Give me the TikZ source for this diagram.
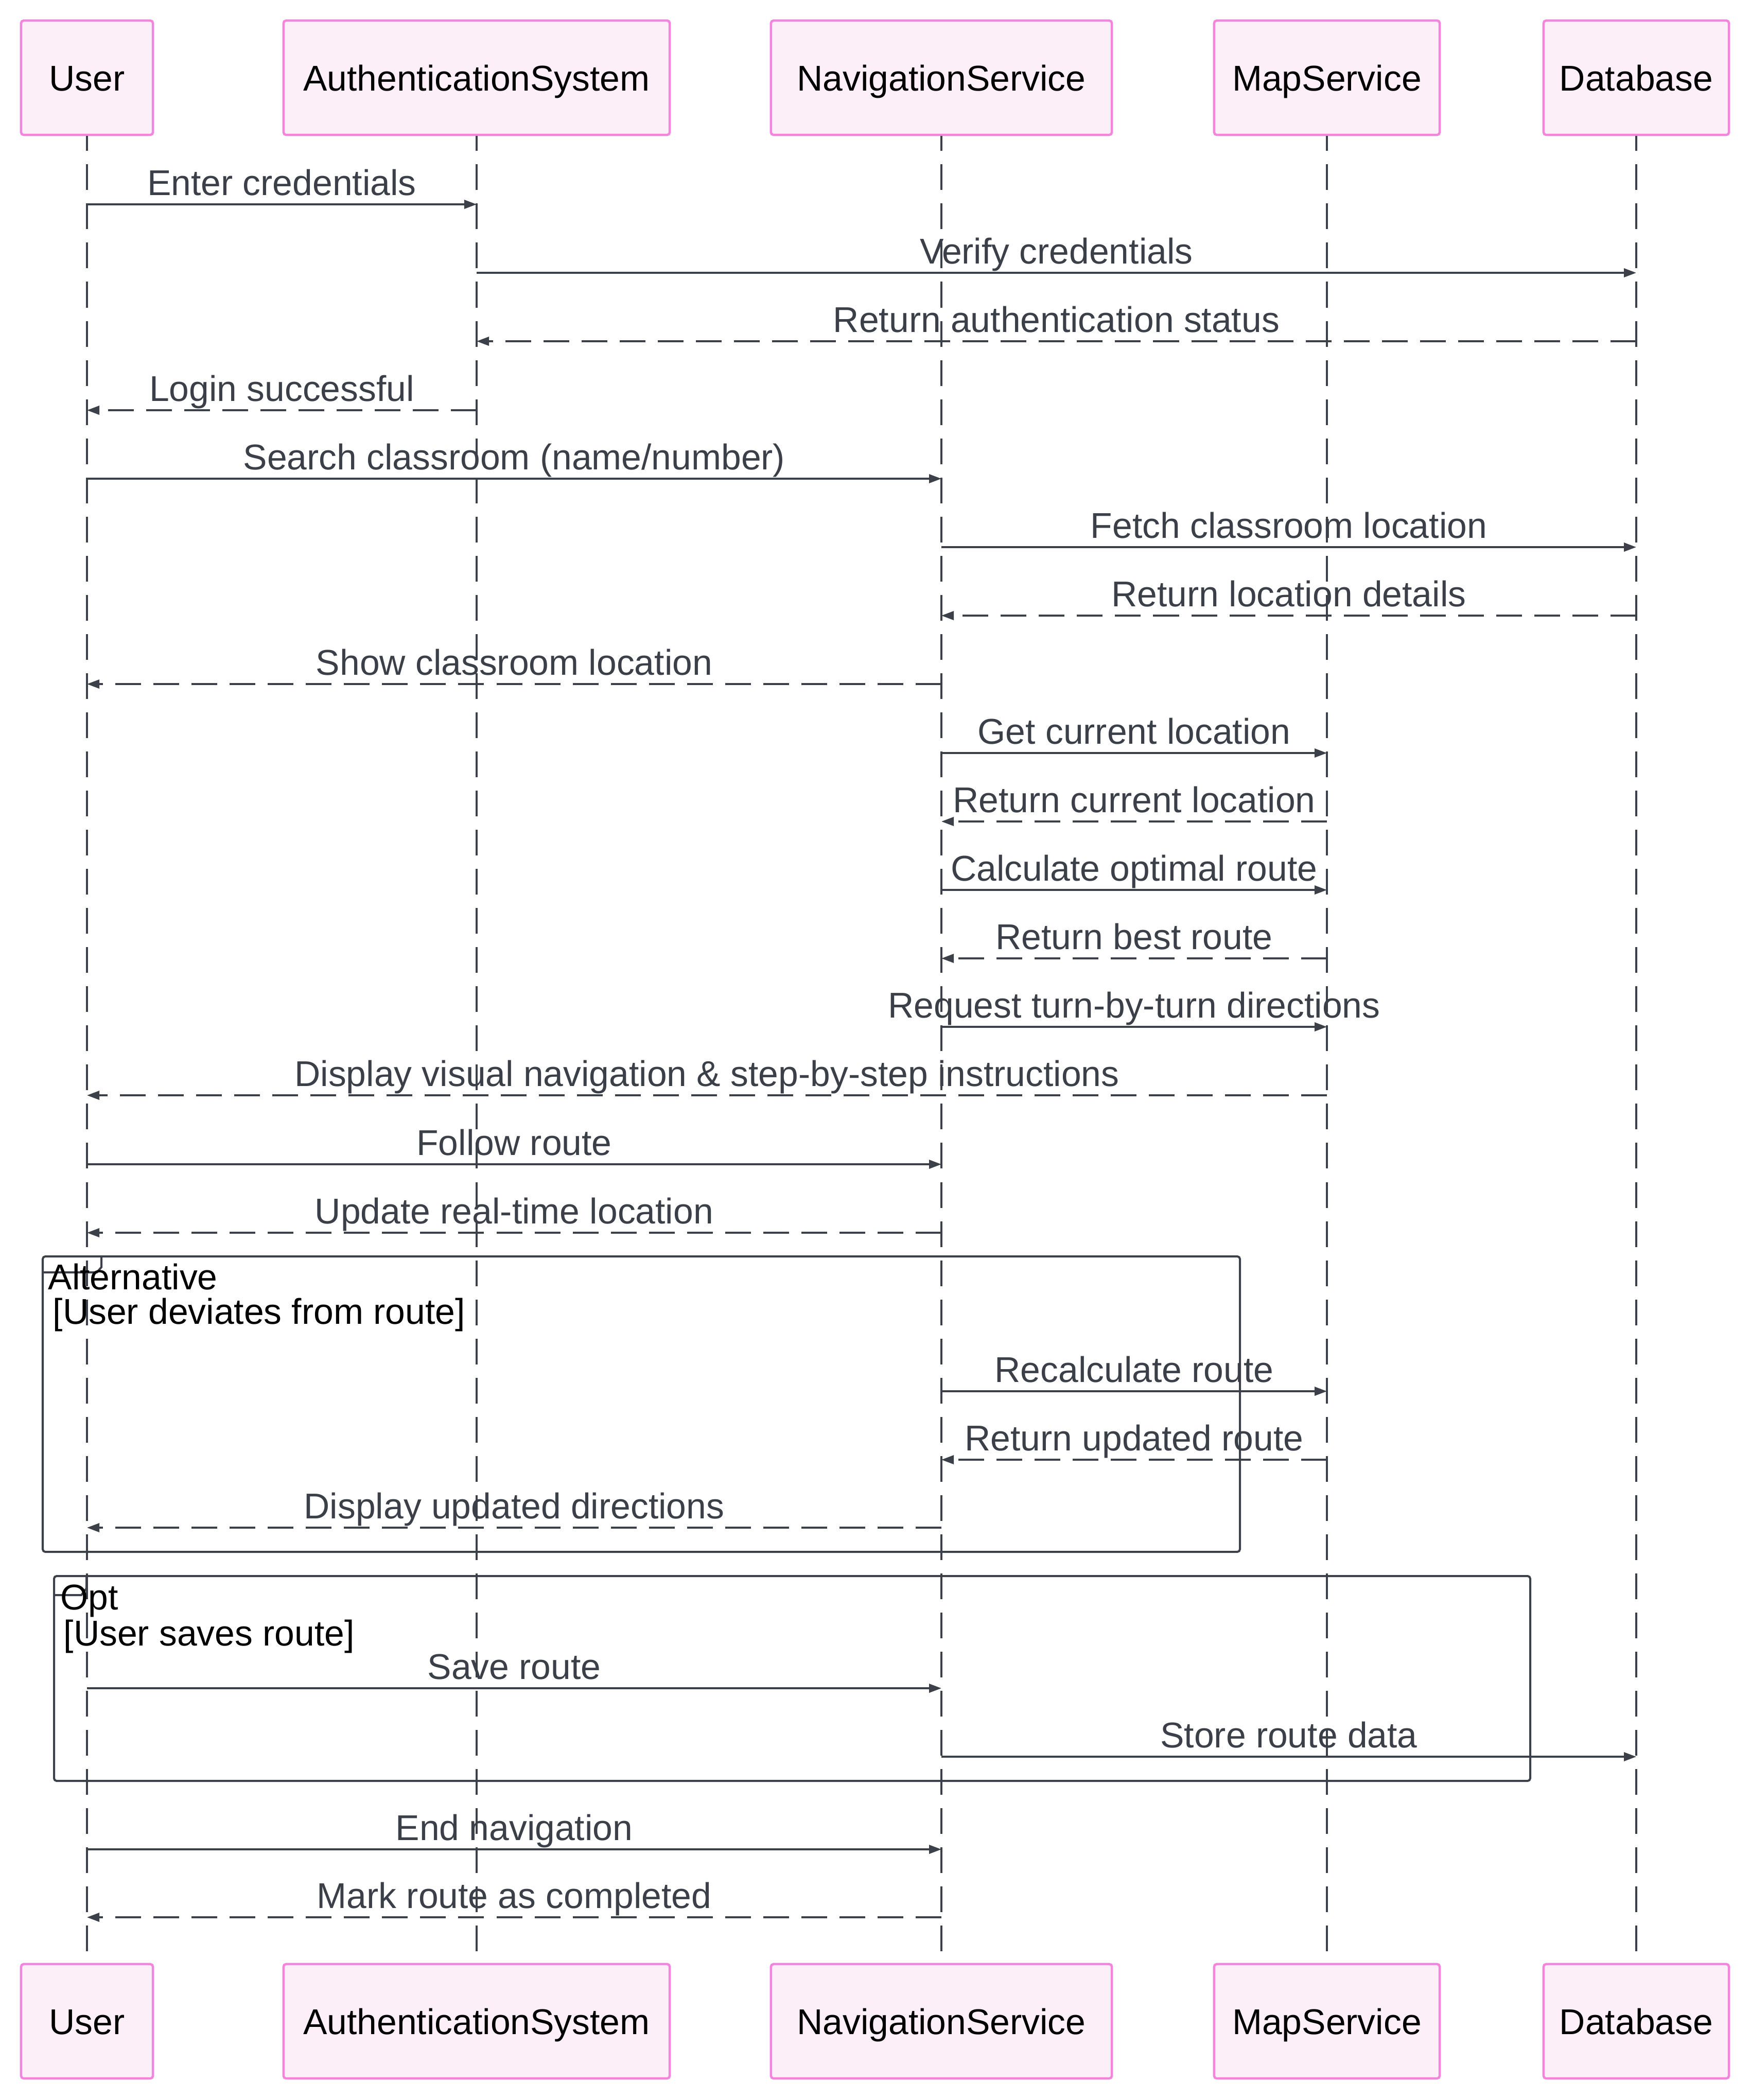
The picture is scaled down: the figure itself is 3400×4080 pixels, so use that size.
\documentclass[tikz,border=0pt]{standalone}
\usepackage{fontspec}
\setmainfont{Liberation Sans}
\usetikzlibrary{arrows.meta}

\definecolor{actfill}{HTML}{FDEFF8}
\definecolor{actline}{HTML}{F385DC}
\definecolor{ink}{HTML}{3C4049}
\definecolor{msgtext}{HTML}{3A3F48}

% one message: from lifeline, to lifeline, y, line style, label
\newcommand{\msgline}[5]{%
  \draw[#4] (#1 |- 0,#3) -- node[msglabel] {#5} (#2 |- 0,#3);
}

\begin{document}
\begin{tikzpicture}[
  x=0.01cm, y=-0.01cm,
  txt/.style={font=\fontsize{19.8}{23}\selectfont},
  actor/.style={txt, draw=actline, fill=actfill, line width=0.045cm,
    rounded corners=0.05cm, minimum height=2.22cm, inner sep=0pt, text=black,
    text height=0.6cm, text depth=0.1cm},
  lifeline/.style={draw=ink, line width=0.034cm,
    dash pattern=on 0.5cm off 0.26cm, dash phase=0.21cm},
  solidmsg/.style={draw=ink, line width=0.034cm,
    -{Triangle[length=0.24cm,width=0.17cm]}},
  dashmsg/.style={solidmsg, dash pattern=on 0.5cm off 0.24cm},
  msglabel/.style={txt, text=msgtext, midway, anchor=base, yshift=0.18cm, inner sep=0pt},
  frame/.style={draw=ink, line width=0.04cm},
  framelabel/.style={txt, text=black, anchor=base west, inner sep=0pt}
]
\useasboundingbox[fill=white] (0,0) rectangle (3400,4080);

% participants, top row
\node[actor, minimum width=2.56cm] (uT) at (169,151) {User};
\node[actor, minimum width=7.5cm]  (aT) at (926,151) {AuthenticationSystem};
\node[actor, minimum width=6.62cm] (nT) at (1829,151) {NavigationService};
\node[actor, minimum width=4.38cm] (mT) at (2578,151) {MapService};
\node[actor, minimum width=3.6cm]  (dT) at (3179,151) {Database};

% participants, bottom row
\node[actor, minimum width=2.56cm] (uB) at (169,3927) {User};
\node[actor, minimum width=7.5cm]  (aB) at (926,3927) {AuthenticationSystem};
\node[actor, minimum width=6.62cm] (nB) at (1829,3927) {NavigationService};
\node[actor, minimum width=4.38cm] (mB) at (2578,3927) {MapService};
\node[actor, minimum width=3.6cm]  (dB) at (3179,3927) {Database};

% lifelines
\draw[lifeline] (uT.south) -- (uB.north);
\draw[lifeline] (aT.south) -- (aB.north);
\draw[lifeline] (nT.south) -- (nB.north);
\draw[lifeline] (mT.south) -- (mB.north);
\draw[lifeline] (dT.south) -- (dB.north);

% alt frame
\draw[frame, rounded corners=0.05cm] (83,2441) rectangle (2409,3015);
\draw[frame] (83,2472) -- (188,2472) -- (197,2462) -- (197,2441);
\node[framelabel] (altname) at (93,2505) {Alternative};
\node[framelabel] (altcond) at (102,2572) {[User deviates from route]};

% opt frame
\draw[frame, rounded corners=0.05cm] (105,3062) rectangle (2973,3460);
\draw[frame] (105,3099) -- (158,3099) -- (168,3086) -- (168,3062);
\node[framelabel] (optname) at (117,3127) {Opt};
\node[framelabel] (optcond) at (123,3197) {[User saves route]};

% messages
\msgline{uT}{aT}{397}{solidmsg}{Enter credentials}
\msgline{aT}{dT}{530}{solidmsg}{Verify credentials}
\msgline{dT}{aT}{663}{dashmsg}{Return authentication status}
\msgline{aT}{uT}{797}{dashmsg}{Login successful}
\msgline{uT}{nT}{930}{solidmsg}{Search classroom (name/number)}
\msgline{nT}{dT}{1063}{solidmsg}{Fetch classroom location}
\msgline{dT}{nT}{1196}{dashmsg}{Return location details}
\msgline{nT}{uT}{1329}{dashmsg}{Show classroom location}
\msgline{nT}{mT}{1463}{solidmsg}{Get current location}
\msgline{mT}{nT}{1596}{dashmsg}{Return current location}
\msgline{nT}{mT}{1729}{solidmsg}{Calculate optimal route}
\msgline{mT}{nT}{1862}{dashmsg}{Return best route}
\msgline{nT}{mT}{1995}{solidmsg}{Request turn-by-turn directions}
\msgline{mT}{uT}{2128}{dashmsg}{Display visual navigation \& step-by-step instructions}
\msgline{uT}{nT}{2262}{solidmsg}{Follow route}
\msgline{nT}{uT}{2395}{dashmsg}{Update real-time location}
\msgline{nT}{mT}{2703}{solidmsg}{Recalculate route}
\msgline{mT}{nT}{2836}{dashmsg}{Return updated route}
\msgline{nT}{uT}{2968}{dashmsg}{Display updated directions}
\msgline{uT}{nT}{3280}{solidmsg}{Save route}
\msgline{nT}{dT}{3413}{solidmsg}{Store route data}
\msgline{uT}{nT}{3593}{solidmsg}{End navigation}
\msgline{nT}{uT}{3725}{dashmsg}{Mark route as completed}
\end{tikzpicture}
\end{document}
